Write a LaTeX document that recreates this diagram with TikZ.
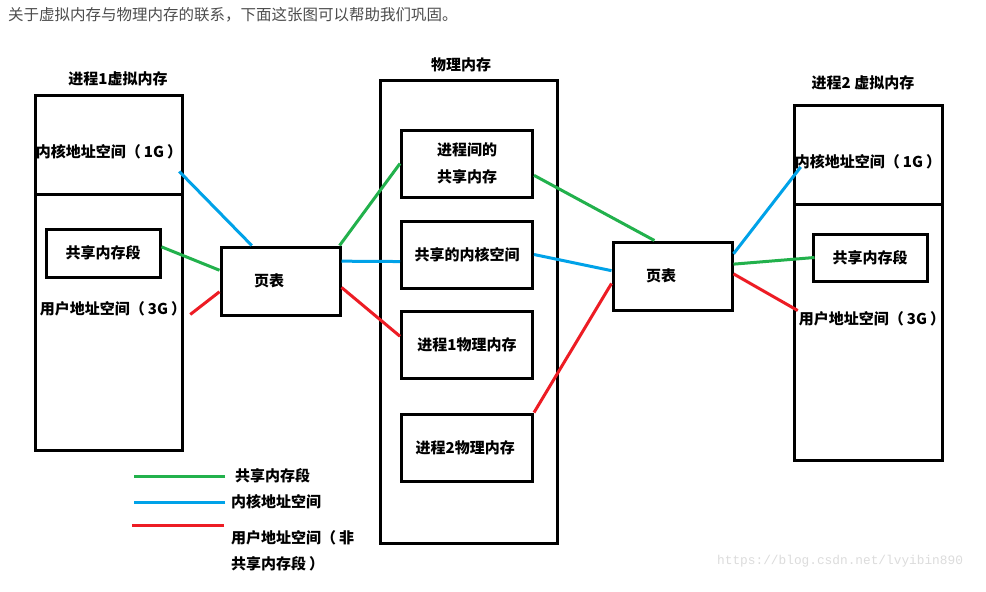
\documentclass[tikz,border=0pt]{standalone}
\usepackage{fontspec}
\setmainfont{Noto Sans CJK SC}
\newfontfamily\urlfont{Liberation Mono}
\usetikzlibrary{positioning}
\definecolor{segG}{HTML}{22B14C}
\definecolor{kernB}{HTML}{00A2E8}
\definecolor{userR}{HTML}{ED1C24}
\definecolor{introgray}{HTML}{4D4D4D}
\definecolor{markgray}{HTML}{DCDCDC}
\newcommand{\pk}{\hspace{3pt}}
\tikzset{
	membox/.style={draw, line width=3pt, inner sep=0pt},
	lbl/.style={inner sep=1pt, font=\fontsize{15}{18}\selectfont\bfseries},
	segline/.style={draw=segG, line width=3pt},
	kernline/.style={draw=kernB, line width=3pt},
	userline/.style={draw=userR, line width=3pt}
}
\begin{document}
\begin{tikzpicture}[x=1pt, y=-1pt]
		\fill[white] (0,0) rectangle (986,592);
		\useasboundingbox (0,0) rectangle (986,592);
		\node[anchor=west, inner sep=0pt, text=introgray, font=\fontsize{15.5}{18}\selectfont] (intro) at (8,15) {关于虚拟内存与物理内存的联系，下面这张图可以帮助我们巩固。};
		% process 1
		\node[lbl] (t1) at (118,79) {进程1虚拟内存};
		\node[membox, minimum width=147, minimum height=99] (kvm1) at (108.5,144.5) {};
		\node[membox, minimum width=147, minimum height=256] (uvm1) at (108.5,322) {};
		\node[lbl] (kl1) at (109,152) {内核地址空间（\pk 1G\pk ）};
		\node[membox, lbl, minimum width=114, minimum height=48] (seg1) at (103,253) {共享内存段};
		\node[lbl] (ul1) at (113,309) {用户地址空间（\pk 3G\pk ）};
		\node[membox, minimum width=119, minimum height=68] (pt1) at (280.5,281) {};
		\node[lbl] (pt1t) at (269,281) {页表};
		% physical memory
		\node[lbl] (tpm) at (461,65) {物理内存};
		\node[membox, minimum width=177, minimum height=463] (pm) at (468.5,311.5) {};
		\foreach \y/\nm/\txt in {
			163.5/sh/{进程间的\\共享内存},
			254.5/kern/{共享的内核空间},
			344.5/p1/{进程1物理内存},
			447.5/p2/{进程2物理内存}
		}{
			\node[membox, lbl, align=center, font=\fontsize{15}{27}\selectfont\bfseries, minimum width=131, minimum height=67] (\nm) at (467,\y) {\txt};
		}
		% process 2
		\node[lbl] (t2) at (863,83) {进程2 虚拟内存};
		\node[membox, minimum width=148, minimum height=99] (kvm2) at (868,154.5) {};
		\node[membox, minimum width=148, minimum height=256] (uvm2) at (868,332) {};
		\node[lbl] (kl2) at (868,162) {内核地址空间（\pk 1G\pk ）};
		\node[membox, lbl, minimum width=114, minimum height=47] (seg2) at (870,257.5) {共享内存段};
		\node[lbl] (ul2) at (872,319) {用户地址空间（\pk 3G\pk ）};
		\node[membox, minimum width=119, minimum height=68] (pt2) at (672.5,276) {};
		\node[lbl] (pt2t) at (661,276) {页表};
		% mappings
		\draw[kernline] ([shift={(-4pt,-11pt)}]kl1.south east) -- (pt1.129);
		\draw[segline] (seg1.6) -- (pt1.170);
		\draw[userline] ([shift={(3pt,3pt)}]ul1.south east) -- (pt1.190);
		\draw[segline] (pt1.31) -- (sh.west);
		\draw[kernline] (pt1.18) -- (kern.186);
		\draw[userline] (pt1.-6) -- (p1.173);
		\draw[segline] (sh.-10) -- (pt2.117);
		\draw[kernline] (kern.east) -- (pt2.175);
		\draw[userline] (p2.north east) -- (pt2.187);
		\draw[kernline] (pt2.20) -- ([shift={(7pt,3.5pt)}]kl2.south west);
		\draw[segline] (pt2.11) -- ([xshift=3pt]seg2.west);
		\draw[userline] (pt2.2) -- ([xshift=0pt]ul2.north west);
		% legend
		\node[lbl, anchor=west] (lgseg) at (234,476) {共享内存段};
		\draw[segline] ([xshift=-9pt]lgseg.west) -- ++(-91,0);
		\node[lbl, anchor=west] (lgkern) at (230,502) {内核地址空间};
		\draw[kernline] ([xshift=-5pt]lgkern.west) -- ++(-91,0);
		\node[lbl, anchor=north west, align=left, font=\fontsize{15}{26}\selectfont\bfseries] (lguser) at (230,529) {用户地址空间（\pk 非\\共享内存段\pk ）};
		\draw[userline] ([shift={(-6pt,4pt)}]lguser.north west) -- ++(-92,0);
		\node[anchor=west, inner sep=0pt, text=markgray, font=\urlfont\fontsize{12.8}{14}\selectfont] (mark) at (717,561) {https://blog.csdn.net/lvyibin890};
	\end{tikzpicture}
\end{document}
